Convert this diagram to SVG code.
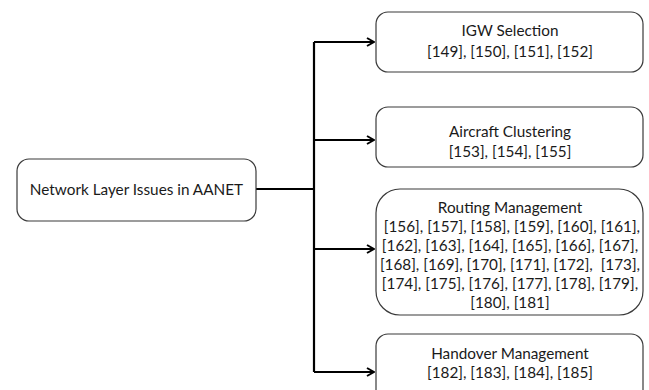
<svg xmlns="http://www.w3.org/2000/svg" width="649" height="390" viewBox="0 0 649 390">
  <style>
    .box { fill: #ffffff; stroke: #3a3a3a; stroke-width: 1.2; }
    .lbl { font-family: Lato, "Open Sans", sans-serif; font-size: 15.3px; fill: #1a1a1a; text-anchor: middle; white-space: pre; }
    .wire { fill: none; stroke: #000000; stroke-width: 2.2; }
  </style>
  <defs>
    <marker id="arrow" viewBox="0 0 10 10" refX="9" refY="5" markerWidth="10" markerHeight="10" markerUnits="userSpaceOnUse" orient="auto">
      <polyline points="2,1 9,5 2,9" fill="none" stroke="#000" stroke-width="2"/>
    </marker>
  </defs>
  <rect width="649" height="390" fill="#ffffff"/>

  <g id="connectors">
    <path class="wire" d="M256,189 H314"/>
    <path class="wire" d="M314,42 V372"/>
    <path class="wire" d="M314,42 H374" marker-end="url(#arrow)"/>
    <path class="wire" d="M314,140 H374" marker-end="url(#arrow)"/>
    <path class="wire" d="M314,249 H374" marker-end="url(#arrow)"/>
    <path class="wire" d="M314,372 H374" marker-end="url(#arrow)"/>
  </g>

  <g id="root">
    <rect class="box" x="17" y="159" width="239" height="62" rx="12"/>
    <text class="lbl" x="136.5" y="195">Network Layer Issues in AANET</text>
  </g>

  <g id="igw">
    <rect class="box" x="376" y="12" width="267" height="60" rx="12"/>
    <text class="lbl" x="510" y="36">IGW Selection</text>
    <text class="lbl" x="510" y="57">[149], [150], [151], [152]</text>
  </g>

  <g id="clustering">
    <rect class="box" x="376" y="107" width="267" height="60" rx="12"/>
    <text class="lbl" x="510" y="137">Aircraft Clustering</text>
    <text class="lbl" x="510" y="157">[153], [154], [155]</text>
  </g>

  <g id="routing">
    <rect class="box" x="376" y="189" width="267" height="126" rx="24"/>
    <text class="lbl" x="510" y="213">Routing Management</text>
    <text class="lbl" x="510" y="232"> [156], [157], [158], [159], [160], [161],</text>
    <text class="lbl" x="510" y="251">[162], [163], [164], [165], [166], [167],</text>
    <text class="lbl" x="510" y="270">[168], [169], [170], [171], [172],  [173],</text>
    <text class="lbl" x="510" y="289">[174], [175], [176], [177], [178], [179],</text>
    <text class="lbl" x="510" y="308">[180], [181]</text>
  </g>

  <g id="handover">
    <rect class="box" x="376" y="334" width="267" height="70" rx="12"/>
    <text class="lbl" x="510" y="359">Handover Management</text>
    <text class="lbl" x="510" y="378">[182], [183], [184], [185]</text>
  </g>
</svg>
